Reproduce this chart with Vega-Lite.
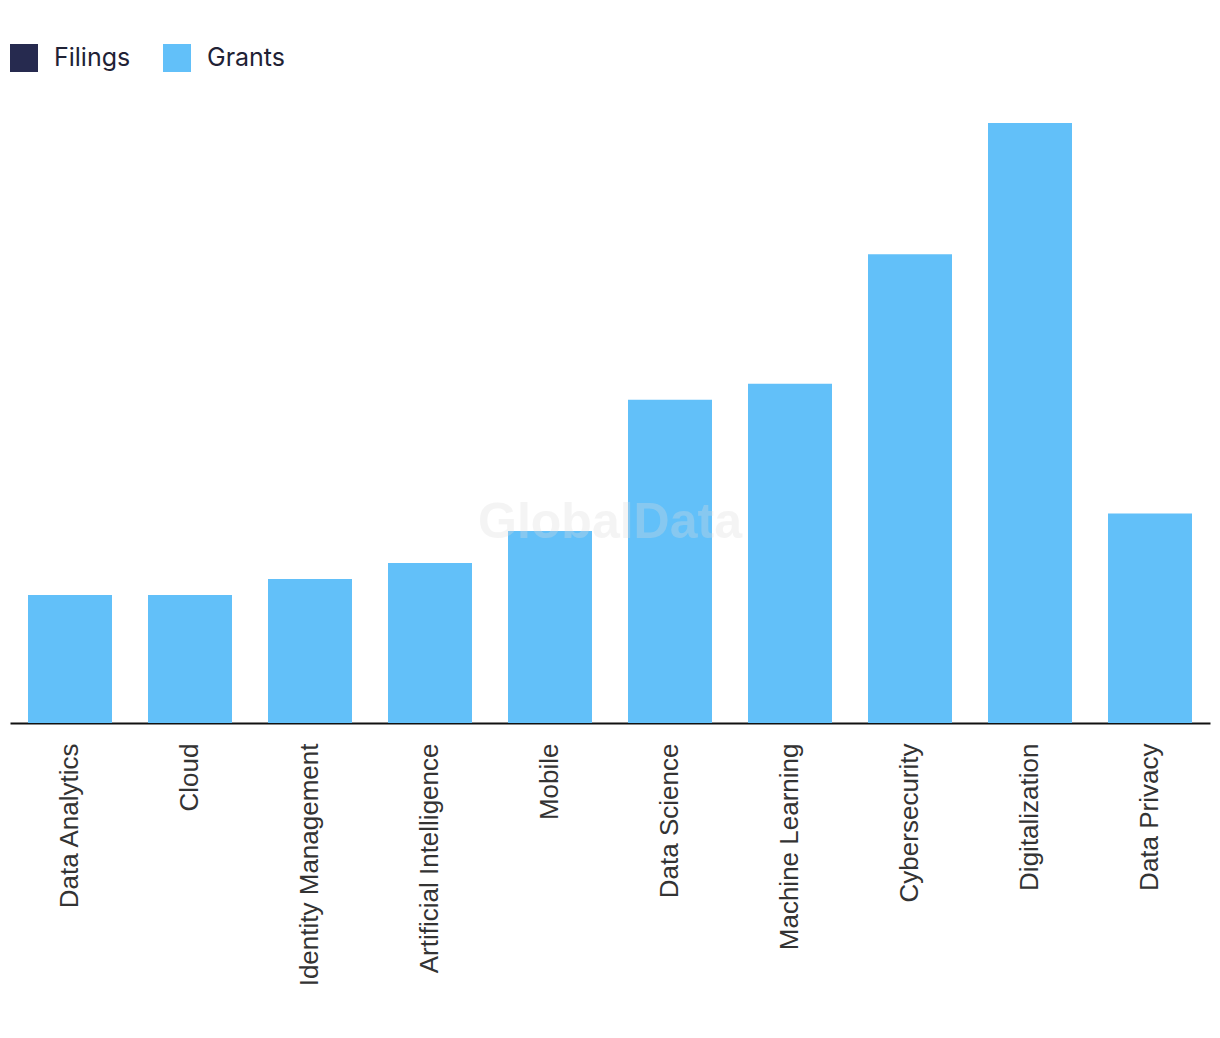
{
  "$schema": "https://vega.github.io/schema/vega-lite/v6.json",
  "width": 1200,
  "height": 600,
  "autosize": {"type": "none"},
  "padding": {"left": 10, "top": 123, "right": 10, "bottom": 315},
  "background": "white",
  "config": {"view": {"stroke": null}},
  "datasets": {
    "bars": [
      {"topic": "Data Analytics", "series": "Grants", "count": 16},
      {"topic": "Cloud", "series": "Grants", "count": 16},
      {"topic": "Identity Management", "series": "Grants", "count": 18},
      {"topic": "Artificial Intelligence", "series": "Grants", "count": 20},
      {"topic": "Mobile", "series": "Grants", "count": 24},
      {"topic": "Data Science", "series": "Grants", "count": 40.4},
      {"topic": "Machine Learning", "series": "Grants", "count": 42.4},
      {"topic": "Cybersecurity", "series": "Grants", "count": 58.6},
      {"topic": "Digitalization", "series": "Grants", "count": 75},
      {"topic": "Data Privacy", "series": "Grants", "count": 26.2}
    ],
    "wm": [
      {"topic": "Data Science", "level": 25, "label": "GlobalData"}
    ]
  },
  "layer": [
    {
      "data": {"name": "bars"},
      "mark": {"type": "bar", "opacity": 1},
      "encoding": {
        "x": {
          "field": "topic",
          "type": "nominal",
          "sort": null,
          "scale": {"paddingInner": 0.3, "paddingOuter": 0.15},
          "axis": {
            "title": null,
            "labelAngle": -90,
            "labelFont": "Liberation Sans",
            "labelFontSize": 26,
            "labelColor": "#333333",
            "labelPadding": 20,
            "ticks": false,
            "domainColor": "#111111",
            "domainWidth": 2,
            "labelLimit": 400
          }
        },
        "y": {
          "field": "count",
          "type": "quantitative",
          "scale": {"domain": [0, 75], "nice": false},
          "axis": null
        },
        "color": {
          "field": "series",
          "type": "nominal",
          "scale": {"domain": ["Filings", "Grants"], "range": ["#262a4f", "#62c0f9"]},
          "legend": {
            "title": null,
            "orient": "none",
            "legendX": 0,
            "legendY": -79,
            "direction": "horizontal",
            "symbolType": "square",
            "symbolSize": 784,
            "symbolStrokeWidth": 0,
            "symbolOpacity": 1,
            "labelFont": "Inter",
            "labelFontSize": 25,
            "labelColor": "#1f2235",
            "labelOffset": 16,
            "columnPadding": 32
          }
        }
      }
    },
    {
      "data": {"name": "wm"},
      "mark": {"type": "text", "fontSize": 50, "fontWeight": "bold", "font": "Liberation Sans", "color": "#dddddd", "opacity": 0.3, "align": "center", "baseline": "middle"},
      "encoding": {
        "x": {"field": "topic", "type": "nominal", "sort": null, "bandPosition": -0.2143},
        "y": {"field": "level", "type": "quantitative"},
        "text": {"field": "label"}
      }
    }
  ]
}
